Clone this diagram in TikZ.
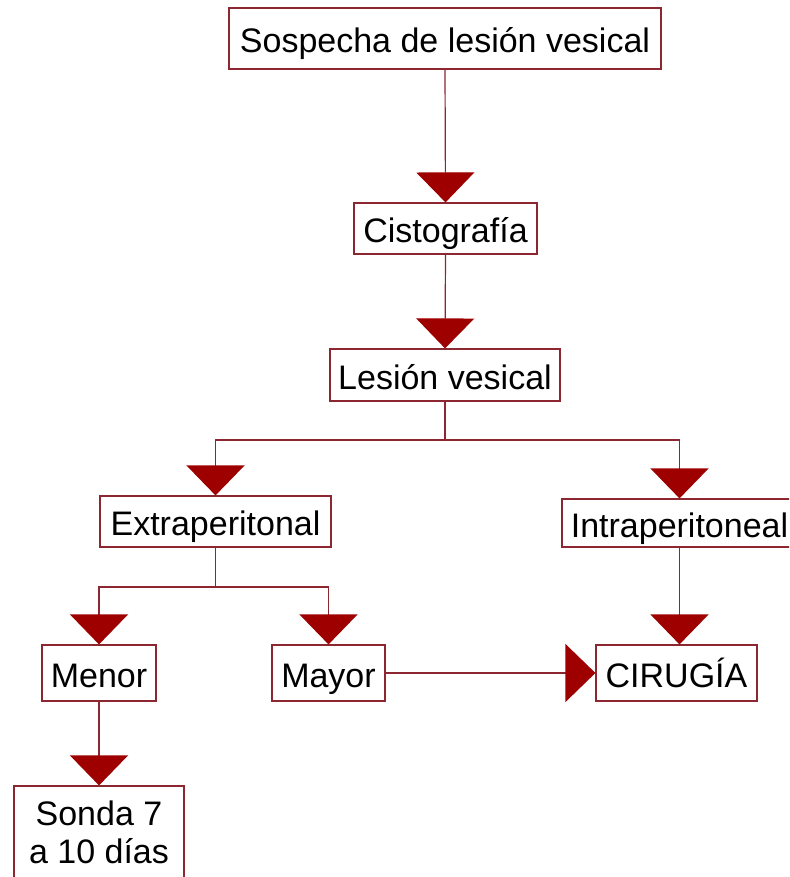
\documentclass[tikz,border=0pt]{standalone}
\usepackage{fontspec}
\setmainfont{Liberation Sans}
\usetikzlibrary{arrows.meta}
\definecolor{boxline}{RGB}{140,38,48}
\definecolor{tipred}{RGB}{158,0,0}
\begin{document}
\begin{tikzpicture}[x=1pt,y=-1pt,
  box/.style={draw=boxline,line width=1.2pt,fill=white,inner sep=0pt,
    font=\fontsize{34}{38}\selectfont,align=center},
  oneline/.style={box,text height=28pt,text depth=0pt},
  conn/.style={draw=boxline,line width=1.2pt,
    -{Triangle[width=58pt,length=30pt,color=tipred,fill=tipred]}},
  plain/.style={draw=boxline,line width=1.2pt}]
\useasboundingbox (0,0) rectangle (789,877);
\clip (0,0) rectangle (789,877);

% boxes
\node[oneline,minimum width=432pt,minimum height=61pt] (sos) at (445,38.5) {Sospecha de lesión vesical};
\node[oneline,minimum width=183pt,minimum height=51pt] (cis) at (445.5,228.5) {Cistografía};
\node[oneline,minimum width=230pt,minimum height=52pt] (les) at (445,375) {Lesión vesical};
\node[oneline,minimum width=231pt,minimum height=51pt] (ext) at (215.5,521.5) {Extraperitonal};
\node[oneline,minimum width=235pt,minimum height=48pt] (int) at (679.5,523) {Intraperitoneal};
\node[oneline,minimum width=114pt,minimum height=56pt] (men) at (99,673) {Menor};
\node[oneline,minimum width=113pt,minimum height=56pt] (may) at (328.5,673) {Mayor};
\node[oneline,minimum width=161pt,minimum height=56pt] (cir) at (676.5,673) {CIRUGÍA};
\node[box,minimum width=170pt,minimum height=92pt] (son) at (99,832) {Sonda 7\\a 10 días};

% branching points
\coordinate (j1) at (445,440);
\coordinate (j2) at (215.5,587);

% connectors
\draw[conn] (sos.south) -- (cis.north);
\draw[conn] (cis.south) -- (les.north);
\draw[plain] (les.south) -- (j1);
\draw[conn] (j1) -| (ext.north);
\draw[conn] (j1) -| (int.north);
\draw[plain] (ext.south) -- (j2);
\draw[conn] (j2) -| (men.north);
\draw[conn] (j2) -| (may.north);
\draw[conn] (int.south) -- (int.south |- cir.north);
\draw[conn] (may.east) -- (cir.west);
\draw[conn] (men.south) -- (son.north);
\end{tikzpicture}
\end{document}
